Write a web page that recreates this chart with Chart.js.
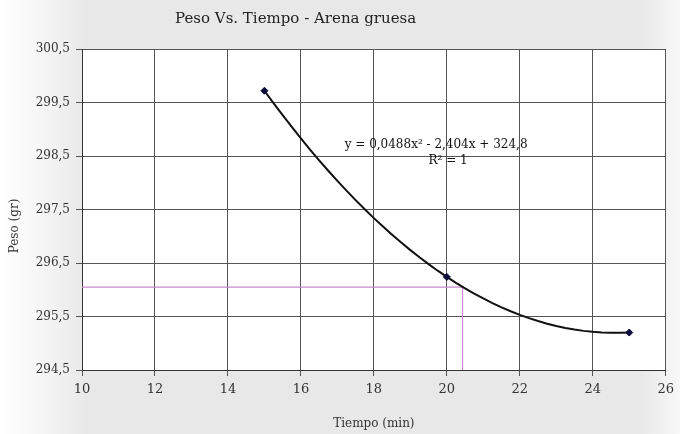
<!DOCTYPE html>
<html>
<head>
<meta charset="utf-8">
<script src="https://cdn.jsdelivr.net/npm/chart.js@4/dist/chart.umd.min.js"></script>
<style>
  html, body { margin: 0; padding: 0; background: #e7e7e7; }
  #wrap { width: 680px; height: 434px; }
</style>
</head>
<body>
<div id="wrap"><canvas id="c" width="680" height="434"></canvas></div>
<script>
// Measured points: time (min) vs weight (g)
const tiempo = [15, 20, 25];
const peso = [299.72, 296.24, 295.2];

// Polynomial trendline coefficients (a, b, c) for y = a x^2 + b x + c
const trendCoef = [0.0488, -2.404, 324.8];
const trendFrom = 15, trendTo = 25;

// Reading guide lines (pink)
const guideX = [10, 20.43, 20.43];
const guideY = [296.05, 296.05, 294.5];

// Axis ranges
const xRange = [10, 26];
const yRange = [294.5, 300.5];

const titleText = 'Peso Vs. Tiempo - Arena gruesa';
const xTitle = 'Tiempo (min)';
const yTitle = 'Peso (gr)';
const eqText = 'y = 0,0488x² - 2,404x + 324,8';
const r2Text = 'R² = 1';

const serif = '"DejaVu Serif", "Liberation Serif", serif';

// trendline sampled along the stated equation
const trendPts = [];
for (let i = 0; i <= 40; i++) {
  const x = trendFrom + (trendTo - trendFrom) * i / 40;
  trendPts.push({ x: x, y: trendCoef[0] * x * x + trendCoef[1] * x + trendCoef[2] });
}

const bgPlugin = {
  id: 'bg',
  beforeDraw(chart) {
    const { ctx, width, height, chartArea } = chart;
    ctx.save();
    const g = ctx.createLinearGradient(0, 0, width, 0);
    g.addColorStop(0, '#ffffff');
    g.addColorStop(0.06, '#f6f6f6');
    g.addColorStop(0.13, '#e8e8e8');
    g.addColorStop(0.94, '#e8e8e8');
    g.addColorStop(1, '#f8f8f8');
    ctx.fillStyle = g;
    ctx.fillRect(0, 0, width, height);
    ctx.fillStyle = '#ffffff';
    ctx.fillRect(chartArea.left, chartArea.top, chartArea.right - chartArea.left, chartArea.bottom - chartArea.top);
    ctx.restore();
  },
  afterDraw(chart) {
    const { ctx, chartArea, scales } = chart;
    ctx.save();
    ctx.fillStyle = '#222';
    ctx.font = '15px ' + serif;
    ctx.textAlign = 'left';
    ctx.textBaseline = 'middle';
    ctx.fillText(titleText, 175, 19);

    ctx.fillStyle = '#333';
    ctx.font = '12px ' + serif;
    ctx.textAlign = 'center';
    ctx.fillText(xTitle, (chartArea.left + chartArea.right) / 2, 424);

    ctx.save();
    ctx.translate(15, 226);
    ctx.rotate(-Math.PI / 2);
    ctx.fillText(yTitle, 0, 0);
    ctx.restore();

    ctx.fillStyle = '#111';
    ctx.font = '12px ' + serif;
    ctx.textAlign = 'left';
    ctx.fillText(eqText, scales.x.getPixelForValue(17.2), scales.y.getPixelForValue(298.71));
    ctx.fillText(r2Text, scales.x.getPixelForValue(19.5), scales.y.getPixelForValue(298.4));
    ctx.restore();
  }
};

const fmt = v => String(v).replace('.', ',');

new Chart(document.getElementById('c'), {
  type: 'scatter',
  data: {
    datasets: [
      {
        label: 'guia',
        data: guideX.map((x, i) => ({ x: x, y: guideY[i] })),
        showLine: true,
        borderColor: '#c98bc9',
        borderWidth: 1.2,
        pointRadius: 0,
        fill: false,
        order: 3
      },
      {
        label: 'tendencia',
        data: trendPts,
        showLine: true,
        borderColor: '#111111',
        borderWidth: 2,
        pointRadius: 0,
        fill: false,
        order: 2
      },
      {
        label: 'Peso',
        data: tiempo.map((x, i) => ({ x: x, y: peso[i] })),
        showLine: false,
        pointStyle: 'rectRot',
        pointRadius: 3.5,
        backgroundColor: '#0a0a3a',
        borderColor: '#0a0a3a',
        order: 1
      }
    ]
  },
  options: {
    responsive: false,
    animation: false,
    layout: { padding: { left: 0, right: 9, top: 49, bottom: 0 } },
    plugins: {
      legend: { display: false },
      title: { display: false },
      tooltip: { enabled: false }
    },
    scales: {
      x: {
        type: 'linear',
        min: xRange[0],
        max: xRange[1],
        afterFit(s) { s.height = 64; },
        ticks: {
          stepSize: 2,
          color: '#333',
          font: { family: serif, size: 13 },
          padding: 6,
          maxRotation: 0,
          callback: v => fmt(v)
        },
        grid: { color: '#555', lineWidth: 1, tickLength: 6, drawTicks: true },
        border: { color: '#333', width: 1 }
      },
      y: {
        type: 'linear',
        min: yRange[0],
        max: yRange[1],
        afterFit(s) { s.width = 82; },
        afterBuildTicks(s) {
          const t = [];
          for (let v = yRange[0]; v <= yRange[1] + 1e-9; v += 1) t.push({ value: v });
          s.ticks = t;
        },
        ticks: {
          color: '#333',
          font: { family: serif, size: 12 },
          padding: 6,
          callback: v => fmt(v.toFixed(1))
        },
        grid: { color: '#555', lineWidth: 1, tickLength: 6, drawTicks: true },
        border: { color: '#333', width: 1 }
      }
    }
  },
  plugins: [bgPlugin]
});
</script>
</body>
</html>
